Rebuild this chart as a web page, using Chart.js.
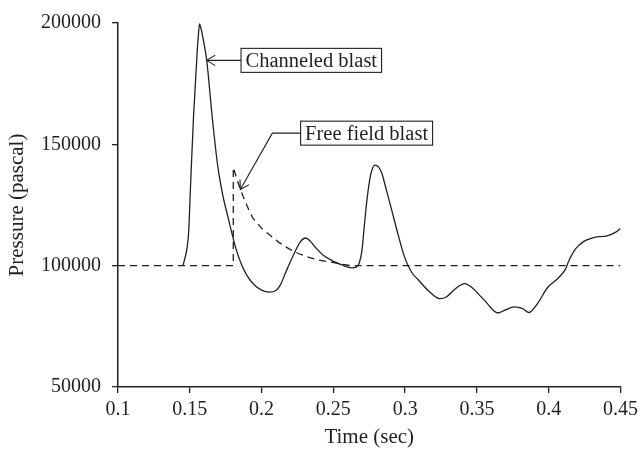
<!DOCTYPE html>
<html><head><meta charset="utf-8">
<script src="https://cdn.jsdelivr.net/npm/chart.js@4/dist/chart.umd.min.js"></script>
<style>html,body{margin:0;padding:0;background:#fff}</style>
</head><body>
<canvas id="c" width="643" height="451"></canvas>
<script>
// ---- data ----
const channeledTime = [0.1452,0.1466,0.1480,0.1492,0.1506,0.1526,0.1552,0.1562,0.1568,0.1575,0.1591,0.1618,0.1656,0.1695,0.1730,0.1764,0.1822,0.1860,0.1900,0.1950,0.2000,0.2053,0.2100,0.2130,0.2170,0.2214,0.2270,0.2307,0.2340,0.2376,0.2430,0.2491,0.2560,0.2630,0.2660,0.2680,0.2699,0.2715,0.2733,0.2760,0.2791,0.2815,0.2837,0.2870,0.2907,0.2950,0.2999,0.3045,0.3091,0.3160,0.3241,0.3287,0.3350,0.3414,0.3460,0.3553,0.3645,0.3691,0.3761,0.3818,0.3864,0.3922,0.3991,0.4061,0.4118,0.4141,0.4187,0.4245,0.4314,0.4406,0.4464,0.4500];
const channeledPressure = [100000,103000,106900,113700,134100,161400,188700,196500,199600,198500,194100,184600,161400,140900,129000,120500,106900,100500,95800,92000,89900,89100,89800,92000,97500,103400,109800,111400,110000,107500,104300,102100,100300,99100,99400,101000,106200,116000,126600,137500,141400,140600,138200,131000,122800,113000,103000,97300,94200,89800,86400,87100,90500,92600,91200,85700,80500,81600,83000,82300,80700,84400,90900,94600,98700,102100,106900,110000,111600,112300,113700,115300];
const freeTime = [0.1000,0.1803,0.1803,0.1830,0.1857,0.1900,0.1937,0.2000,0.2053,0.2120,0.2192,0.2260,0.2330,0.2400,0.2468,0.2550,0.2620,0.4500];
const freePressure = [100000,100000,140500,135300,130700,124500,119800,115400,112800,109600,106900,104900,103400,102300,101600,100700,100000,100000];
const seriesNames = ['Channeled blast','Free field blast'];
const xTickLabels = ['0.1','0.15','0.2','0.25','0.3','0.35','0.4','0.45'];
const yTickLabels = ['50000','100000','150000','200000'];
// annotation anchors (data units)
const annotTipX = [0.1618, 0.1852];
const annotTipY = [184600, 131400];
const annotElbowX = [0.1618, 0.2075];
const annotElbowY = [184600, 154600];
const annotBoxX = [0.1857, 0.2272];

const INK = '#231f20';
const FONT = '"Liberation Serif", "Times New Roman", serif';

const toPts = (xs, ys) => xs.map((x, i) => ({x, y: ys[i]}));

const annotPlugin = {
  id: 'annot',
  afterDatasetsDraw(chart) {
    const {ctx, scales: {x, y}} = chart;
    ctx.save();
    ctx.strokeStyle = INK; ctx.fillStyle = INK; ctx.lineWidth = 1.1;
    ctx.font = '20.5px ' + FONT;
    seriesNames.forEach((name, i) => {
      const tx = x.getPixelForValue(annotTipX[i]), ty = y.getPixelForValue(annotTipY[i]);
      const ex = x.getPixelForValue(annotElbowX[i]), ey = y.getPixelForValue(annotElbowY[i]);
      const bx = x.getPixelForValue(annotBoxX[i]);
      // leader line
      ctx.beginPath(); ctx.moveTo(bx, ey); ctx.lineTo(ex, ey); ctx.lineTo(tx, ty); ctx.stroke();
      // open arrowhead
      const ang = Math.atan2(ey - ty, ex - tx);
      const L = 10, spread = 0.55;
      ctx.beginPath();
      ctx.moveTo(tx + L*Math.cos(ang+spread), ty + L*Math.sin(ang+spread));
      ctx.lineTo(tx, ty);
      ctx.lineTo(tx + L*Math.cos(ang-spread), ty + L*Math.sin(ang-spread));
      ctx.stroke();
      // box with text
      const w = ctx.measureText(name).width + 9, h = 24;
      ctx.strokeRect(bx, ey - h/2, w, h);
      ctx.textBaseline = 'middle'; ctx.textAlign = 'left';
      ctx.fillText(name, bx + 4.5, ey + 1);
    });
    ctx.restore();
  }
};

new Chart(document.getElementById('c'), {
  type: 'line',
  data: {
    datasets: [
      {label: seriesNames[0], data: toPts(channeledTime, channeledPressure), borderColor: INK, borderWidth: 1.3,
       pointRadius: 0, fill: false, cubicInterpolationMode: 'monotone'},
      {label: seriesNames[1], data: toPts(freeTime, freePressure), borderColor: INK, borderWidth: 1.3,
       pointRadius: 0, fill: false, tension: 0, borderDash: [7, 5]}
    ]
  },
  options: {
    responsive: false, animation: false, devicePixelRatio: 1,
    layout: {padding: {top: 21, right: 20, left: 0, bottom: 0}},
    plugins: {legend: {display: false}, tooltip: {enabled: false}},
    scales: {
      x: {
        type: 'linear', min: 0.1, max: 0.45,
        afterBuildTicks: s => { s.ticks = xTickLabels.map(v => ({value: parseFloat(v)})); },
        afterFit: s => { s.height = 64; },
        ticks: {autoSkip: false, maxRotation: 0, padding: 5, color: INK,
                font: {family: FONT, size: 20}, callback: (v, i) => xTickLabels[i]},
        grid: {display: true, drawOnChartArea: false, drawTicks: true, tickLength: 6, color: INK, lineWidth: 1.3},
        border: {display: true, color: INK, width: 1.5},
        title: {display: true, text: 'Time (sec)', color: INK, font: {family: FONT, size: 21}, padding: {top: 0, bottom: 1}}
      },
      y: {
        type: 'linear', min: 50000, max: 200000,
        afterBuildTicks: s => { s.ticks = yTickLabels.map(v => ({value: parseFloat(v)})); },
        afterFit: s => { s.width = 118; },
        ticks: {autoSkip: false, padding: 11, color: INK,
                font: {family: FONT, size: 20}, callback: (v, i) => yTickLabels[i]},
        grid: {display: true, drawOnChartArea: false, drawTicks: true, tickLength: 6, color: INK, lineWidth: 1.3},
        border: {display: true, color: INK, width: 1.5},
        title: {display: true, text: 'Pressure (pascal)', color: INK, font: {family: FONT, size: 21}, padding: {top: 5, bottom: 0}}
      }
    }
  },
  plugins: [annotPlugin]
});
</script>
</body></html>
